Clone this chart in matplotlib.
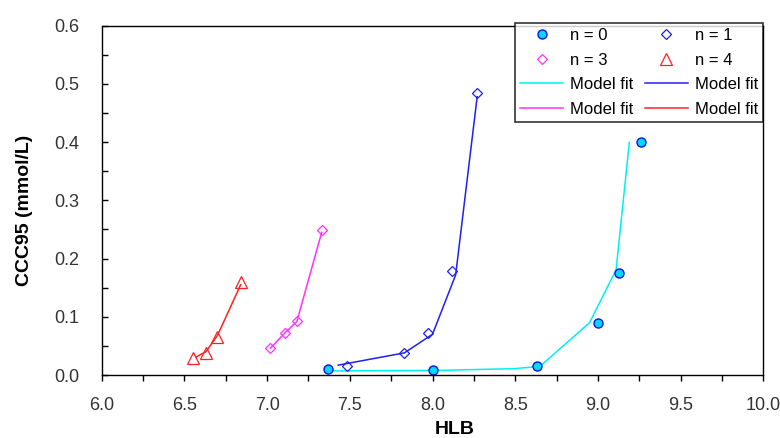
import matplotlib
matplotlib.use("Agg")
import matplotlib.pyplot as plt
from matplotlib.ticker import MultipleLocator

plt.rcParams['font.family'] = ['Liberation Sans', 'DejaVu Sans']

# measured points
hlb_n0 = [7.37, 8.00, 8.63, 9.00, 9.13, 9.26]
ccc_n0 = [0.010, 0.009, 0.016, 0.089, 0.176, 0.400]
hlb_n1 = [7.48, 7.83, 7.97, 8.12, 8.27]
ccc_n1 = [0.015, 0.038, 0.073, 0.178, 0.485]
hlb_n3 = [7.02, 7.11, 7.18, 7.33]
ccc_n3 = [0.046, 0.073, 0.092, 0.249]
hlb_n4 = [6.55, 6.63, 6.70, 6.84]
ccc_n4 = [0.029, 0.038, 0.066, 0.159]

# model fits
fit_hlb_n0 = [7.40, 8.05, 8.50, 8.65, 8.95, 9.11, 9.19]
fit_ccc_n0 = [0.007, 0.008, 0.011, 0.015, 0.090, 0.181, 0.400]
fit_hlb_n1 = [7.43, 7.83, 8.00, 8.14, 8.27]
fit_ccc_n1 = [0.017, 0.038, 0.070, 0.172, 0.478]
fit_hlb_n3 = [7.02, 7.11, 7.18, 7.33]
fit_ccc_n3 = [0.046, 0.073, 0.092, 0.245]
fit_hlb_n4 = [6.57, 6.63, 6.70, 6.84]
fit_ccc_n4 = [0.031, 0.040, 0.068, 0.155]

fig = plt.figure(figsize=(7.8, 4.38), dpi=100)
ax = fig.add_axes([0.1304, 0.1438, 0.8482, 0.7975])

cyan = '#00F0F0'
blue = '#2020F0'
magenta = '#FF30FF'
red = '#FF2020'

f0, = ax.plot(fit_hlb_n0, fit_ccc_n0, color=cyan, lw=1.1)
f1, = ax.plot(fit_hlb_n1, fit_ccc_n1, color=blue, lw=1.1)
f3, = ax.plot(fit_hlb_n3, fit_ccc_n3, color=magenta, lw=1.1)
f4, = ax.plot(fit_hlb_n4, fit_ccc_n4, color=red, lw=1.1)

p0, = ax.plot(hlb_n0, ccc_n0, 'o', ms=6.5, mfc='#00D8FF', mec='#1010E0', mew=1.0)
p1, = ax.plot(hlb_n1, ccc_n1, 'D', ms=5.5, mfc='none', mec=blue, mew=0.9)
p3, = ax.plot(hlb_n3, ccc_n3, 'D', ms=5.5, mfc='none', mec=magenta, mew=0.9)
p4, = ax.plot(hlb_n4, ccc_n4, '^', ms=8, mfc='none', mec=red, mew=0.9)

ax.set_xlim(6.0, 10.0)
ax.set_ylim(0.0, 0.6)
ax.xaxis.set_major_locator(MultipleLocator(0.5))
ax.xaxis.set_minor_locator(MultipleLocator(0.25))
ax.yaxis.set_major_locator(MultipleLocator(0.1))
ax.yaxis.set_minor_locator(MultipleLocator(0.05))
ax.xaxis.set_major_formatter(plt.FormatStrFormatter('%.1f'))
ax.yaxis.set_major_formatter(plt.FormatStrFormatter('%.1f'))

ax.tick_params(axis='x', which='both', direction='out', length=4.5, width=1.0,
               pad=11, labelsize=13, labelcolor='#333333')
ax.tick_params(axis='y', which='both', direction='in', length=4.5, width=1.0,
               pad=16, labelsize=13, labelcolor='#333333')
for sp in ax.spines.values():
    sp.set_linewidth(1.0)

ax.set_xlabel('HLB', fontsize=14, fontweight='bold')
ax.set_ylabel('CCC95 (mmol/L)', fontsize=14, fontweight='bold')
ax.xaxis.set_label_coords(0.534, -0.133)
ax.yaxis.set_label_coords(-0.104, 0.472)

handles = [p0, p3, f0, f3, p1, p4, f1, f4]
labels = ['n = 0', 'n = 3', 'Model fit', 'Model fit',
          'n = 1', 'n = 4', 'Model fit', 'Model fit']
leg = fig.legend(handles, labels, ncol=2, loc='upper right',
                 bbox_to_anchor=(763 / 780, 1 - 23 / 438),
                 fontsize=12, frameon=True, fancybox=False,
                 edgecolor='black', handlelength=2.6, handletextpad=0.4,
                 columnspacing=0.7, labelspacing=0.58, borderpad=0.3,
                 borderaxespad=0.0)
leg.get_frame().set_linewidth(1.2)

fig.savefig('out.png', dpi=100)
